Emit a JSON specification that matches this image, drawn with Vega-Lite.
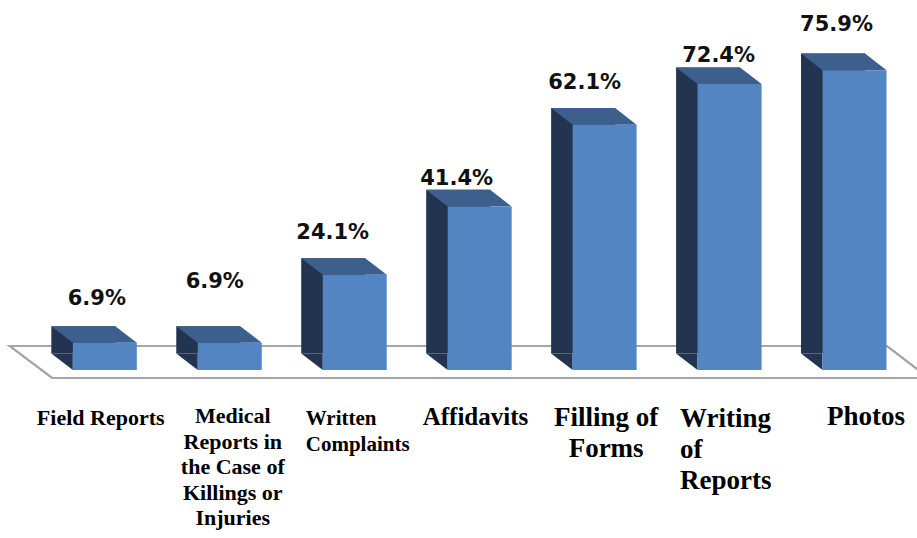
{
  "$schema": "https://vega.github.io/schema/vega-lite/v6.json",
  "width": 917,
  "height": 538,
  "autosize": {"type": "none"},
  "padding": 0,
  "background": "white",
  "config": {"view": {"stroke": null}},
  "data": {
    "values": [
      {"cat": "Field Reports", "label": "Field Reports", "value": 6.9},
      {"cat": "Medical Reports in the Case of Killings or Injuries", "label": "Medical\nReports in\nthe Case of\nKillings or\nInjuries", "value": 6.9},
      {"cat": "Written Complaints", "label": "Written\nComplaints", "value": 24.1},
      {"cat": "Affidavits", "label": "Affidavits", "value": 41.4},
      {"cat": "Filling of Forms", "label": "Filling of\nForms", "value": 62.1},
      {"cat": "Writing of Reports", "label": "Writing\nof\nReports", "value": 72.4},
      {"cat": "Photos", "label": "Photos", "value": 75.9}
    ]
  },
  "encoding": {
    "x": {
      "field": "cat",
      "type": "nominal",
      "sort": null,
      "axis": null,
      "scale": {"type": "band", "paddingInner": 0, "paddingOuter": 0.1695, "align": 1}
    },
    "y": {
      "field": "value",
      "type": "quantitative",
      "axis": null,
      "scale": {"domain": [-42.53, 93.67], "nice": false, "zero": false}
    }
  },
  "layer": [
    {
      "mark": {"type": "point", "shape": "M-94.8,-24L781.7,-24L823.8,8L-52.2,8Z", "size": 4, "filled": true, "fill": "white", "stroke": "#a6a6a6", "strokeWidth": 2, "opacity": 1},
      "encoding": {"x": {"datum": "Field Reports"}, "y": {"datum": 0, "type": "quantitative"}}
    },
    {
      "mark": {"type": "bar", "size": 64, "color": "#22344f", "xOffset": -21.5, "yOffset": -16.6, "y2Offset": -16.6},
      "encoding": {"y2": {"datum": 0}}
    },
    {
      "mark": {"type": "point", "shape": "M-53.5,-16.6L-32,-16.6L-32,0Z", "size": 4, "filled": true, "fill": "#22344f", "strokeWidth": 0, "opacity": 1},
      "encoding": {"y": {"datum": 0, "type": "quantitative"}}
    },
    {
      "mark": {"type": "point", "shape": "M-32,0L-53.5,-16.6L10.5,-16.6L32,0Z", "size": 4, "filled": true, "fill": "#3c5f8e", "strokeWidth": 0, "opacity": 1}
    },
    {
      "mark": {"type": "bar", "size": 64, "color": "#5485c3"},
      "encoding": {"y2": {"datum": 0}}
    },
    {
      "mark": {"type": "text", "font": "DejaVu Sans", "fontWeight": "bold", "fontSize": 21, "color": "#111111", "align": "center", "baseline": "alphabetic",
        "dx": {"expr": "datum.cat == 'Field Reports' ? -8 : datum.cat == 'Medical Reports in the Case of Killings or Injuries' ? -15 : datum.cat == 'Written Complaints' ? -22 : datum.cat == 'Affidavits' ? -23 : datum.cat == 'Filling of Forms' ? -20 : datum.cat == 'Writing of Reports' ? -11 : -18"},
        "dy": {"expr": "datum.cat == 'Field Reports' ? -37.7 : datum.cat == 'Medical Reports in the Case of Killings or Injuries' ? -54.7 : datum.cat == 'Written Complaints' ? -36 : datum.cat == 'Affidavits' ? -21.7 : datum.cat == 'Filling of Forms' ? -35.3 : datum.cat == 'Writing of Reports' ? -22.3 : -39.5"},
        "text": {"expr": "format(datum.value, '.1f') + '%'"}}
    },
    {
      "mark": {"type": "text", "font": "Liberation Serif", "fontWeight": "bold", "color": "#000000", "align": "left", "baseline": "alphabetic", "lineHeight": 25.5, "lineBreak": "\n", "dy": 55,
        "dx": {"expr": "datum.cat == 'Field Reports' ? -68 : datum.cat == 'Written Complaints' ? -49 : datum.cat == 'Affidavits' ? -57 : datum.cat == 'Writing of Reports' ? -49.5 : -27.5"},
        "fontSize": {"expr": "datum.cat == 'Field Reports' ? 22 : datum.cat == 'Written Complaints' ? 21 : datum.cat == 'Affidavits' ? 25 : 27"}},
      "transform": [{"filter": "indexof(['Field Reports','Written Complaints','Affidavits','Photos'], datum.cat) >= 0"}],
      "encoding": {"y": {"datum": 0, "type": "quantitative"}, "text": {"field": "label"}}
    },
    {
      "mark": {"type": "text", "font": "Liberation Serif", "fontWeight": "bold", "color": "#000000", "align": "left", "baseline": "alphabetic", "lineHeight": 31, "lineBreak": "\n", "dy": 57, "dx": -49.5, "fontSize": 27},
      "transform": [{"filter": "datum.cat == 'Writing of Reports'"}],
      "encoding": {"y": {"datum": 0, "type": "quantitative"}, "text": {"field": "label"}}
    },
    {
      "mark": {"type": "text", "font": "Liberation Serif", "fontWeight": "bold", "color": "#000000", "align": "center", "baseline": "alphabetic", "lineHeight": 25.5, "lineBreak": "\n", "dy": 53, "dx": 3, "fontSize": 22},
      "transform": [{"filter": "datum.cat == 'Medical Reports in the Case of Killings or Injuries'"}],
      "encoding": {"y": {"datum": 0, "type": "quantitative"}, "text": {"field": "label"}}
    },
    {
      "mark": {"type": "text", "font": "Liberation Serif", "fontWeight": "bold", "color": "#000000", "align": "center", "baseline": "alphabetic", "lineHeight": 31, "lineBreak": "\n", "dy": 56, "dx": 1.5, "fontSize": 27},
      "transform": [{"filter": "datum.cat == 'Filling of Forms'"}],
      "encoding": {"y": {"datum": 0, "type": "quantitative"}, "text": {"field": "label"}}
    }
  ]
}
